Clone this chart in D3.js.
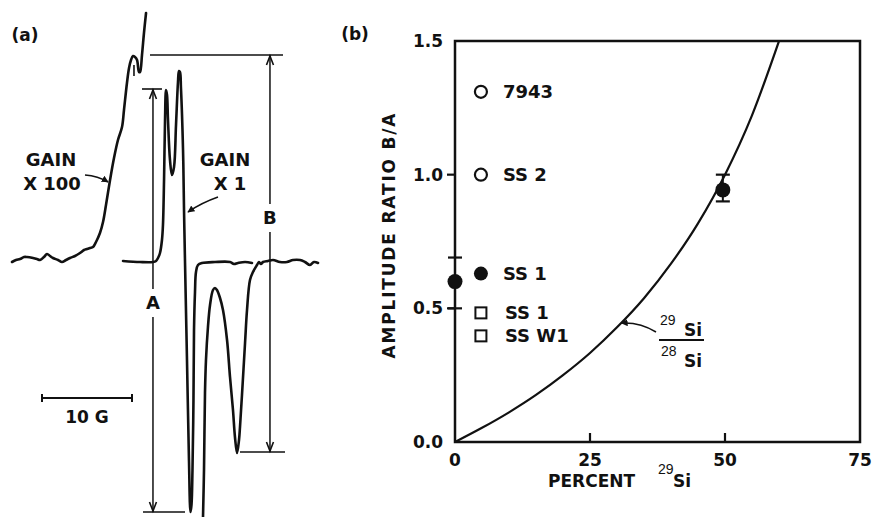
<!DOCTYPE html>
<html><head><meta charset="utf-8">
<script src="https://cdn.jsdelivr.net/npm/d3@7"></script>
<style>body{margin:0;background:#fff}svg{display:block}</style>
</head><body>
<svg id="c" width="875" height="517"></svg>
<script>
// ---------- Panel (a): EPR traces (field in G from scale-bar start, signal in arb. units) ----------
const gain100LowField = [-3.33,-2.89,-2.44,-2.0,-1.67,-1.0,-0.56,-0.22,0.22,0.56,0.89,1.22,1.78,2.22,2.67,3.11,3.67,4.22,4.67,5.0,5.33,5.67,6.0,6.44,6.78,7.11,7.56,8.0,8.44,8.89,9.11,9.44,9.67,9.89,10.11,10.33,10.56,10.78,10.89,11.11,11.33,11.56];
const gain100LowSignal = [0,0.2,0.3,0.5,0.5,0.4,0.3,0.2,0.5,0.8,0.6,0.4,0.2,0,0.2,0.4,0.6,0.9,1.2,1.3,1.4,1.5,2.0,2.9,4.0,5.7,8.2,10.4,12.2,13.5,15.2,17.9,19.4,20.2,20.6,20.5,20.2,19.0,19.0,20.7,22.9,24.9];
const gain100HighField = [17.89,18.0,18.11,18.22,18.44,18.67,19.0,19.22,19.44,19.78,20.11,20.56,20.89,21.22,21.44,21.67,21.89,22.0,22.22,22.56,22.78,23.11,23.44,23.89,24.11,24.33,24.56,25.11,25.67,26.44,27.22,27.89,28.67,29.22,29.78,30.22,30.67];
const gain100HighSignal = [-25.5,-20.8,-13.1,-9.8,-6.5,-4.3,-2.8,-2.6,-2.8,-3.6,-4.8,-7.8,-11.5,-14.8,-17.5,-19.1,-17.8,-16.5,-13.3,-8.1,-4.8,-1.8,-1.0,-0.3,0,-0.2,0,0.1,0.2,0,0,0.2,0.2,0,-0.3,0,-0.1];
const gain1Field = [9.0,10.89,12.33,12.67,12.89,13.11,13.33,13.44,13.56,13.67,13.78,13.89,14.0,14.22,14.44,14.67,14.89,15.11,15.22,15.33,15.44,15.67,15.78,15.89,16.11,16.33,16.5,16.61,16.72,16.83,16.89,17.0,17.11,17.33,17.78,19.22,20.89,21.33,21.78,22.56,23.33];
const gain1Signal = [0.1,0,0,0.1,0.4,0.9,2.2,3.7,8.2,14.2,17.2,16.7,14.2,10.2,8.7,9.5,13.7,18.0,19.1,19.0,17.4,11.2,5.2,0,-9.8,-19.8,-25.0,-24.3,-20.8,-13.8,-6.8,-3.0,-1.0,-0.3,-0.1,0,0,-0.2,-0.1,0,-0.1];

// ---------- Panel (b): amplitude ratio vs percent 29Si ----------
const xTicksB = [0, 25, 50, 75];
const yTicksB = [0.0, 0.5, 1.0, 1.5];
const curvePercent = [0, 5, 10, 15, 20, 25, 30, 35, 40, 45, 50, 55, 60];
const curveRatio   = [0, 0.053, 0.111, 0.176, 0.25, 0.333, 0.429, 0.538, 0.667, 0.818, 1.0, 1.222, 1.5];
const measPercent = [0, 49.6];
const measRatio   = [0.60, 0.943];
const measLow     = [0.50, 0.90];
const measHigh    = [0.69, 1.00];
const openCircleLabels = ["7943", "SS 2"];
const openCircleRatio  = [1.31, 1.0];
const filledLabels = ["SS 1"];
const filledRatio  = [0.63];
const squareLabels = ["SS 1", "SS W1"];
const squareRatio  = [0.483, 0.397];
const legendPercent = 4.8;

const svg = d3.select("#c");
const F = "'DejaVu Sans', sans-serif";
const INK = "#111";

const defs = svg.append("defs");
defs.append("marker").attr("id","ah").attr("viewBox","0 0 10 10").attr("refX",9).attr("refY",5)
  .attr("markerWidth",7).attr("markerHeight",7).attr("markerUnits","userSpaceOnUse").attr("orient","auto")
  .append("path").attr("d","M0,0 L10,5 L0,10 z").attr("fill",INK);

function txt(x, y, s, size, opts = {}) {
  return svg.append("text").attr("x", x).attr("y", y).attr("dy", "0.36em")
    .attr("font-family", opts.family || F).attr("font-weight", opts.weight || "bold")
    .attr("font-size", size).attr("fill", INK).attr("text-anchor", opts.anchor || "middle").text(s);
}

// ===== Panel (a) =====
const xA = d3.scaleLinear().domain([0, 10]).range([42, 132]);
const yA = d3.scaleLinear().domain([0, 10]).range([262, 162]);
const lineA = d3.line().x(d => xA(d[0])).y(d => yA(d[1])).curve(d3.curveCatmullRom.alpha(0.5));
const zip = (a, b) => a.map((v, i) => [v, b[i]]);

const gA = svg.append("g");
[[gain100LowField, gain100LowSignal], [gain100HighField, gain100HighSignal], [gain1Field, gain1Signal]]
  .forEach(([f, s]) => gA.append("path").attr("d", lineA(zip(f, s))).attr("fill", "none")
    .attr("stroke", INK).attr("stroke-width", 2.6).attr("stroke-linejoin", "round").attr("stroke-linecap", "round"));
// small pen mark in the bump
gA.append("line").attr("x1", xA(10.22)).attr("x2", xA(10.22)).attr("y1", yA(19.7)).attr("y2", yA(18.6))
  .attr("stroke", INK).attr("stroke-width", 1.6);

function hline(f1, f2, s) {
  gA.append("line").attr("x1", xA(f1)).attr("x2", xA(f2)).attr("y1", yA(s)).attr("y2", yA(s))
    .attr("stroke", INK).attr("stroke-width", 1.6);
}
hline(12.0, 26.78, 20.7);   // B top
hline(11.11, 13.33, 17.3);  // A top
hline(11.22, 15.89, -25.0); // A bottom
hline(22.0, 27.0, -19.0);   // B bottom

function dimArrow(f, top, bottom, labelS, label) {
  const x = xA(f), yt = yA(top), yb = yA(bottom), yl = yA(labelS);
  gA.append("line").attr("x1", x).attr("x2", x).attr("y1", yt).attr("y2", yl - 14).attr("stroke", INK).attr("stroke-width", 1.5);
  gA.append("line").attr("x1", x).attr("x2", x).attr("y1", yl + 14).attr("y2", yb).attr("stroke", INK).attr("stroke-width", 1.5);
  gA.append("path").attr("d", `M${x-3.5},${yt+10} L${x},${yt+1} L${x+3.5},${yt+10}`).attr("fill", "none").attr("stroke", INK).attr("stroke-width", 1.6);
  gA.append("path").attr("d", `M${x-3.5},${yb-10} L${x},${yb-1} L${x+3.5},${yb-10}`).attr("fill", "none").attr("stroke", INK).attr("stroke-width", 1.6);
  txt(x, yl, label, 18);
}
dimArrow(12.33, 17.3, -25.0, -4.1, "A");
dimArrow(25.33, 20.7, -19.0, 4.4, "B");

// scale bar 10 G
const ySB = yA(-13.6);
gA.append("line").attr("x1", xA(0)).attr("x2", xA(10)).attr("y1", ySB).attr("y2", ySB).attr("stroke", INK).attr("stroke-width", 2);
[0, 10].forEach(v => gA.append("line").attr("x1", xA(v)).attr("x2", xA(v)).attr("y1", ySB - 4).attr("y2", ySB + 4).attr("stroke", INK).attr("stroke-width", 2));
txt(xA(5), ySB + 19, "10 G", 17);

txt(25, 35, "(a)", 17);
txt(51, 160, "GAIN", 18);
txt(52, 184, "X 100", 18);
txt(225, 160, "GAIN", 18);
txt(230, 184, "X 1", 18);
svg.append("path").attr("d", "M85,175 Q98,176 108,182").attr("fill", "none").attr("stroke", INK).attr("stroke-width", 1.5).attr("marker-end", "url(#ah)");
svg.append("path").attr("d", "M218,197 Q201,203 188,212").attr("fill", "none").attr("stroke", INK).attr("stroke-width", 1.5).attr("marker-end", "url(#ah)");

// ===== Panel (b) =====
const xB = d3.scaleLinear().domain([0, 75]).range([455, 860]);
const yB = d3.scaleLinear().domain([0, 1.5]).range([442, 41]);
const gB = svg.append("g");
defs.append("clipPath").attr("id", "pb").append("rect").attr("x", xB(0)).attr("y", yB(1.5)).attr("width", xB(75) - xB(0)).attr("height", yB(0) - yB(1.5));

gB.append("rect").attr("x", xB(0)).attr("y", yB(1.5)).attr("width", xB(75) - xB(0)).attr("height", yB(0) - yB(1.5))
  .attr("fill", "none").attr("stroke", INK).attr("stroke-width", 2.5);

// y ticks (outward) and labels
yTicksB.forEach(v => {
  if (v > 0 && v < 1.5) gB.append("line").attr("x1", xB(0) - 8).attr("x2", xB(0)).attr("y1", yB(v)).attr("y2", yB(v)).attr("stroke", INK).attr("stroke-width", 2.2);
  txt(xB(0) - 12, yB(v), v.toFixed(1), 17, { anchor: "end" });
});
// x ticks (inward) and labels
xTicksB.forEach(v => {
  if (v > 0 && v < 75) gB.append("line").attr("x1", xB(v)).attr("x2", xB(v)).attr("y1", yB(0)).attr("y2", yB(0) - 9).attr("stroke", INK).attr("stroke-width", 2.2);
  txt(xB(v), 460, String(v), 17);
});

// axis titles
txt(548, 481, "PERCENT", 17, { anchor: "start" });
txt(658, 469, "29", 14, { anchor: "start", weight: "normal", family: "'Liberation Sans', sans-serif" });
txt(673, 481, "Si", 17, { anchor: "start" });
svg.append("text").attr("transform", "translate(389,236) rotate(-90)").attr("dy", "0.36em")
  .attr("text-anchor", "middle").attr("font-family", F).attr("font-weight", "bold").attr("font-size", 17)
  .attr("fill", INK).attr("textLength", 245).attr("lengthAdjust", "spacing").text("AMPLITUDE RATIO B/A");
txt(355, 34, "(b)", 17);

// theoretical curve
const lineB = d3.line().x((d) => xB(d[0])).y(d => yB(d[1])).curve(d3.curveMonotoneX);
gB.append("path").attr("d", lineB(zip(curvePercent, curveRatio))).attr("clip-path", "url(#pb)")
  .attr("fill", "none").attr("stroke", INK).attr("stroke-width", 2.2);

// measured points with error bars
measPercent.forEach((p, i) => {
  const x = xB(p);
  gB.append("line").attr("x1", x).attr("x2", x).attr("y1", yB(measLow[i])).attr("y2", yB(measHigh[i])).attr("stroke", INK).attr("stroke-width", 2);
  [measLow[i], measHigh[i]].forEach(v => gB.append("line").attr("x1", x - 7).attr("x2", x + 7).attr("y1", yB(v)).attr("y2", yB(v)).attr("stroke", INK).attr("stroke-width", 2.2));
  gB.append("circle").attr("cx", x).attr("cy", yB(measRatio[i])).attr("r", 7.5).attr("fill", INK);
});

// sample symbols with labels
const lx = xB(legendPercent);
openCircleRatio.forEach((r, i) => {
  gB.append("circle").attr("cx", lx).attr("cy", yB(r)).attr("r", 6).attr("fill", "#fff").attr("stroke", INK).attr("stroke-width", 2.2);
  txt(lx + 22, yB(r), openCircleLabels[i], 18, { anchor: "start" });
});
filledRatio.forEach((r, i) => {
  gB.append("circle").attr("cx", lx).attr("cy", yB(r)).attr("r", 7).attr("fill", INK);
  txt(lx + 22, yB(r), filledLabels[i], 18, { anchor: "start" });
});
squareRatio.forEach((r, i) => {
  gB.append("rect").attr("x", lx - 5.5).attr("y", yB(r) - 5.5).attr("width", 11).attr("height", 11)
    .attr("fill", "#fff").attr("stroke", INK).attr("stroke-width", 2);
  txt(lx + 24, yB(r), squareLabels[i], 18, { anchor: "start" });
});

// curve label 29Si / 28Si
txt(660, 320, "29", 14, { anchor: "start", weight: "normal", family: "'Liberation Sans', sans-serif" });
txt(684, 330, "Si", 17, { anchor: "start" });
svg.append("line").attr("x1", 659).attr("x2", 704).attr("y1", 340).attr("y2", 340).attr("stroke", INK).attr("stroke-width", 1.8);
txt(661, 351, "28", 14, { anchor: "start", weight: "normal", family: "'Liberation Sans', sans-serif" });
txt(684, 361, "Si", 17, { anchor: "start" });
svg.append("path").attr("d", `M656,332 Q640,322 ${xB(30.8)},${yB(0.445)}`).attr("fill", "none")
  .attr("stroke", INK).attr("stroke-width", 1.5).attr("marker-end", "url(#ah)");
</script>
</body></html>
